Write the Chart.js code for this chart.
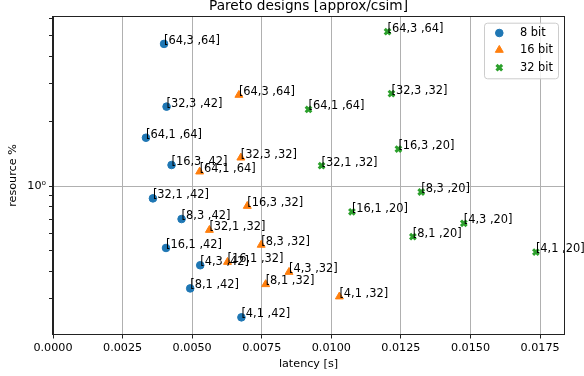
<!DOCTYPE html>
<html><head><meta charset="utf-8">
<script src="https://cdn.jsdelivr.net/npm/chart.js@4/dist/chart.umd.min.js"></script>
<style>html,body{margin:0;padding:0;background:#fff}</style>
</head><body>
<canvas id="c" width="584" height="376"></canvas>
<script>
// ---- data ----
const seriesNames = ['8 bit', '16 bit', '32 bit'];

const lat8  = [0.00399, 0.00408, 0.00334, 0.00426, 0.00359, 0.00462, 0.00406, 0.00529, 0.00493, 0.00677];
const res8  = [4.58, 2.34, 1.677, 1.252, 0.876, 0.702, 0.515, 0.428, 0.334, 0.245];
const cfg8  = ['[64,3 ,64]', '[32,3 ,42]', '[64,1 ,64]', '[16,3 ,42]', '[32,1 ,42]', '[8,3 ,42]', '[16,1 ,42]', '[4,3 ,42]', '[8,1 ,42]', '[4,1 ,42]'];

const lat16 = [0.00668, 0.00675, 0.00527, 0.00698, 0.00562, 0.00748, 0.00627, 0.00848, 0.00764, 0.01029];
const res16 = [2.65, 1.354, 1.166, 0.807, 0.624, 0.532, 0.443, 0.398, 0.349, 0.306];
const cfg16 = ['[64,3 ,64]', '[32,3 ,32]', '[64,1 ,64]', '[16,3 ,32]', '[32,1 ,32]', '[8,3 ,32]', '[16,1 ,32]', '[4,3 ,32]', '[8,1 ,32]', '[4,1 ,32]'];

const lat32 = [0.01202, 0.01216, 0.00918, 0.01241, 0.00965, 0.01323, 0.01074, 0.01476, 0.01293, 0.01735];
const res32 = [5.22, 2.69, 2.27, 1.486, 1.243, 0.938, 0.759, 0.671, 0.581, 0.493];
const cfg32 = ['[64,3 ,64]', '[32,3 ,32]', '[64,1 ,64]', '[16,3 ,20]', '[32,1 ,32]', '[8,3 ,20]', '[16,1 ,20]', '[4,3 ,20]', '[8,1 ,20]', '[4,1 ,20]'];

const xTickValues = [0, 0.0025, 0.005, 0.0075, 0.01, 0.0125, 0.015, 0.0175];
const yTickValues = [0.3, 0.4, 0.5, 0.6, 0.7, 0.8, 0.9, 1, 2, 3, 4, 5, 6];
const yMajorValues = [1];
const xRange = [0, 0.01836];
const yRange = [0.205, 6.11];

const titleText = 'Pareto designs [approx/csim]';
const xLabel = 'latency [s]';
const yLabel = 'resource %';

// ---- styling ----
const FONT = 'DejaVu Sans';
const colors = ['#1f77b4', '#ff7f0e', '#2ca02c'];
const styles = [
  {pointStyle: 'circle', radius: 3.8, borderWidth: 1},
  {pointStyle: 'triangle', radius: 4.6, borderWidth: 1},
  {pointStyle: 'crossRot', radius: 4.0, borderWidth: 3}
];

function pts(xs, ys) { return xs.map((x, i) => ({x: x, y: ys[i]})); }
const allLat = [lat8, lat16, lat32];
const allRes = [res8, res16, res32];
const allCfg = [cfg8, cfg16, cfg32];

const datasets = seriesNames.map((name, k) => ({
  label: name,
  data: pts(allLat[k], allRes[k]),
  backgroundColor: colors[k],
  borderColor: colors[k],
  pointStyle: styles[k].pointStyle,
  pointRadius: styles[k].radius,
  pointBorderWidth: styles[k].borderWidth,
  order: 3 - k
}));

const labelPlugin = {
  id: 'pointLabels',
  afterDatasetsDraw(chart) {
    const ctx = chart.ctx;
    ctx.save();
    ctx.font = '11.4px "' + FONT + '"';
    ctx.fillStyle = '#000';
    ctx.textAlign = 'left';
    ctx.textBaseline = 'alphabetic';
    chart.data.datasets.forEach((ds, k) => {
      const meta = chart.getDatasetMeta(k);
      meta.data.forEach((el, i) => {
        ctx.fillText(allCfg[k][i], el.x, el.y);
      });
    });
    ctx.restore();
  }
};

const framePlugin = {
  id: 'frame',
  afterDatasetsDraw(chart) {
    const a = chart.chartArea;
    const ctx = chart.ctx;
    ctx.save();
    ctx.strokeStyle = '#222';
    ctx.lineWidth = 1;
    ctx.strokeRect(Math.round(a.left) - 0.5, Math.round(a.top) - 0.5,
                   Math.round(a.right) - Math.round(a.left) + 1, Math.round(a.bottom) - Math.round(a.top) + 1);
    ctx.restore();
  }
};

const legendPlugin = {
  id: 'innerLegend',
  afterDraw(chart) {
    const a = chart.chartArea;
    const ctx = chart.ctx;
    const w = 74, h = 55.6;
    const right = a.right - 6;
    const left = right - w;
    const top = a.top + 5.7;
    ctx.save();
    ctx.beginPath();
    if (ctx.roundRect) ctx.roundRect(left + 0.5, top + 0.5, w, h, 3); else ctx.rect(left + 0.5, top + 0.5, w, h);
    ctx.fillStyle = 'rgba(255,255,255,0.8)';
    ctx.fill();
    ctx.strokeStyle = '#cccccc';
    ctx.lineWidth = 1;
    ctx.stroke();
    ctx.font = '11.4px "' + FONT + '"';
    ctx.textAlign = 'left';
    ctx.textBaseline = 'middle';
    const rows = [10.3, 27.3, 45];
    seriesNames.forEach((name, k) => {
      const y = top + rows[k];
      const x = left + 15.3;
      ctx.fillStyle = colors[k];
      ctx.strokeStyle = colors[k];
      ctx.lineWidth = styles[k].borderWidth;
      Chart.helpers.drawPoint(ctx, {pointStyle: styles[k].pointStyle, radius: styles[k].radius, borderWidth: styles[k].borderWidth, rotation: 0}, x, y);
      ctx.fillStyle = '#000';
      ctx.fillText(name, left + 36, y + 0.5);
    });
    ctx.restore();
  }
};

new Chart(document.getElementById('c'), {
  type: 'scatter',
  data: {datasets: datasets},
  plugins: [labelPlugin, framePlugin, legendPlugin],
  options: {
    responsive: false,
    animation: false,
    devicePixelRatio: 1,
    layout: {padding: {left: 0, right: 20, top: 0, bottom: 0}},
    plugins: {
      legend: {display: false},
      tooltip: {enabled: false},
      title: {
        display: true,
        text: titleText,
        fullSize: false,
        color: '#000',
        font: {family: FONT, size: 13.7, weight: 'normal', lineHeight: 1.0},
        padding: {top: 0, bottom: 3.3}
      }
    },
    scales: {
      x: {
        type: 'linear',
        min: xRange[0], max: xRange[1],
        afterFit(scale) { scale.height = 42; },
        afterBuildTicks(scale) { scale.ticks = xTickValues.map(v => ({value: v})); },
        ticks: {
          includeBounds: false,
          autoSkip: false,
          maxRotation: 0,
          color: '#000',
          padding: 3,
          font: {family: FONT, size: 11.2},
          callback: (v) => Number(v).toFixed(4)
        },
        grid: {color: '#b0b0b0', lineWidth: 1, tickColor: '#222', tickLength: 4.5},
        border: {color: '#222', width: 1},
        title: {display: true, text: xLabel, color: '#000', font: {family: FONT, size: 11.2}, padding: {top: 0, bottom: 5}}
      },
      y: {
        type: 'logarithmic',
        min: yRange[0], max: yRange[1],
        afterFit(scale) { scale.width = 53; },
        afterBuildTicks(scale) { scale.ticks = yTickValues.map(v => ({value: v, major: yMajorValues.includes(v)})); },
        ticks: {
          autoSkip: false,
          color: '#000',
          padding: 3,
          font: {family: FONT, size: 11.2},
          callback: (v) => yMajorValues.includes(v) ? '10\u2070' : ''
        },
        grid: {
          color: (c) => (c.tick && yMajorValues.includes(c.tick.value)) ? '#b0b0b0' : 'rgba(0,0,0,0)',
          tickColor: '#222',
          lineWidth: 1,
          tickLength: 4
        },
        border: {color: '#222', width: 1},
        title: {display: true, text: yLabel, color: '#000', font: {family: FONT, size: 11.2}, padding: {top: 6, bottom: 0}}
      }
    }
  }
});
</script>
</body></html>
